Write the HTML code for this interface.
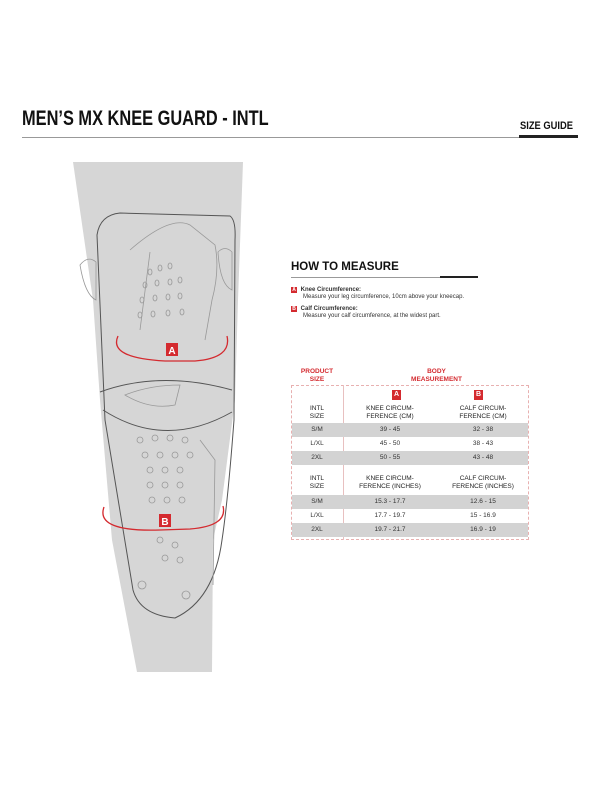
<!DOCTYPE html>
<html><head><meta charset="utf-8"><style>
body{margin:0;width:600px;height:800px;background:#fff;position:relative;font-family:"Liberation Sans",sans-serif;overflow:hidden}
.a{position:absolute}
.t{font-weight:bold}
.badge{display:inline-block;background:#d42a2f;color:#fff;font-weight:bold;font-size:7px;width:8px;height:8px;line-height:8px;text-align:center}
.bd{position:absolute;background:#d42a2f;color:#fff;font-weight:bold;font-size:7px;width:9px;height:10px;line-height:10px;text-align:center}
</style></head><body>
<div class="a t" style="left:22px;top:107px;font-size:21px;color:#111;transform:scaleX(0.78);transform-origin:left;white-space:nowrap">MEN’S MX KNEE GUARD - INTL</div>
<div class="a" style="left:22px;top:137px;width:556px;height:1px;background:#999"></div>
<div class="a t" style="left:520px;top:120px;font-size:11px;color:#111;transform:scaleX(0.85);transform-origin:left">SIZE GUIDE</div>
<div class="a" style="left:519px;top:135px;width:59px;height:3px;background:#222"></div>

<svg class="a" style="left:0;top:0" width="300" height="800">
<path d="M73 162 L243 162 L238 300 L235 400 L222 500 L213 540 L212 672 L137 672 L112 540 L100 400 L93 300 Z" fill="#d6d6d6"/>
<g fill="none" stroke="#555" stroke-width="1">
<path d="M97 235 Q100 215 120 213 L230 216 Q236 220 235 240 L234 420 Q228 500 222 540 Q214 600 175 618 Q140 615 133 590 L105 420 Z"/>
<path d="M100 392 Q160 370 232 390 M103 410 Q165 450 232 412"/>
</g>
<g fill="none" stroke="#999" stroke-width="0.8">
<path d="M130 250 Q170 215 190 225 L215 245 Q220 270 212 300 L205 340 M150 252 L140 330"/>
<path d="M80 265 Q88 255 96 262 L96 300 Q85 295 80 265 Z M218 252 Q225 245 232 252 L232 290 Q220 285 218 252 Z"/>
<path d="M125 395 Q150 385 180 385 L175 405 Q150 410 125 395 Z"/>
<path d="M200 440 L215 460 L213 585"/>
<circle cx="142" cy="585" r="4"/><circle cx="186" cy="595" r="4"/>
</g>
<g fill="none" stroke="#999" stroke-width="0.8">
<ellipse cx="150" cy="272" rx="2" ry="3"/><ellipse cx="160" cy="268" rx="2" ry="3"/><ellipse cx="170" cy="266" rx="2" ry="3"/>
<ellipse cx="145" cy="285" rx="2" ry="3"/><ellipse cx="157" cy="283" rx="2" ry="3"/><ellipse cx="170" cy="282" rx="2" ry="3"/><ellipse cx="180" cy="280" rx="2" ry="3"/>
<ellipse cx="142" cy="300" rx="2" ry="3"/><ellipse cx="155" cy="298" rx="2" ry="3"/><ellipse cx="168" cy="297" rx="2" ry="3"/><ellipse cx="180" cy="296" rx="2" ry="3"/>
<ellipse cx="140" cy="315" rx="2" ry="3"/><ellipse cx="153" cy="314" rx="2" ry="3"/><ellipse cx="168" cy="313" rx="2" ry="3"/><ellipse cx="182" cy="312" rx="2" ry="3"/>
<ellipse cx="140" cy="440" rx="3" ry="3"/><ellipse cx="155" cy="438" rx="3" ry="3"/><ellipse cx="170" cy="438" rx="3" ry="3"/><ellipse cx="185" cy="440" rx="3" ry="3"/>
<ellipse cx="145" cy="455" rx="3" ry="3"/><ellipse cx="160" cy="455" rx="3" ry="3"/><ellipse cx="175" cy="455" rx="3" ry="3"/><ellipse cx="190" cy="455" rx="3" ry="3"/>
<ellipse cx="150" cy="470" rx="3" ry="3"/><ellipse cx="165" cy="470" rx="3" ry="3"/><ellipse cx="180" cy="470" rx="3" ry="3"/>
<ellipse cx="150" cy="485" rx="3" ry="3"/><ellipse cx="165" cy="485" rx="3" ry="3"/><ellipse cx="180" cy="485" rx="3" ry="3"/>
<ellipse cx="152" cy="500" rx="3" ry="3"/><ellipse cx="167" cy="500" rx="3" ry="3"/><ellipse cx="182" cy="500" rx="3" ry="3"/>
<ellipse cx="160" cy="540" rx="3" ry="3"/><ellipse cx="175" cy="545" rx="3" ry="3"/><ellipse cx="165" cy="558" rx="3" ry="3"/><ellipse cx="180" cy="560" rx="3" ry="3"/>
</g>
<g fill="none" stroke="#d42a2f" stroke-width="1.3">
<path d="M118 336 Q108 358 165 361 L195 361 Q232 358 227 336"/>
<path d="M104 507 Q95 532 160 530 L190 529 Q228 526 223 506"/>
</g>
<rect x="166" y="343" width="12" height="13" fill="#d42a2f"/>
<text x="172" y="354" fill="#fff" font-size="10" font-weight="bold" text-anchor="middle" font-family="Liberation Sans">A</text>
<rect x="159" y="514" width="12" height="13" fill="#d42a2f"/>
<text x="165" y="525" fill="#fff" font-size="10" font-weight="bold" text-anchor="middle" font-family="Liberation Sans">B</text>
</svg>

<div class="a t" style="left:291px;top:261px;font-size:11.5px;color:#111">HOW TO MEASURE</div>
<div class="a" style="left:291px;top:277px;width:187px;height:1px;background:#999"></div>
<div class="a" style="left:440px;top:276px;width:38px;height:2px;background:#222"></div>
<div class="a" style="left:291px;top:287px;font-size:6px;line-height:7px;color:#333"><span class="badge" style="width:6px;height:6px;line-height:6px;font-size:5px">A</span> <b style="margin-left:2px">Knee Circumference:</b><br><span style="margin-left:12px">Measure your leg circumference, 10cm above your kneecap.</span></div>
<div class="a" style="left:291px;top:306px;font-size:6px;line-height:7px;color:#333"><span class="badge" style="width:6px;height:6px;line-height:6px;font-size:5px">B</span> <b style="margin-left:2px">Calf Circumference:</b><br><span style="margin-left:12px">Measure your calf circumference, at the widest part.</span></div>

<div class="a t" style="left:291px;top:368px;width:52px;text-align:center;font-size:6.5px;line-height:8px;color:#d42a2f">PRODUCT<br>SIZE</div>
<div class="a t" style="left:343px;top:368px;width:187px;text-align:center;font-size:6.5px;line-height:8px;color:#d42a2f">BODY<br>MEASUREMENT</div>
<div class="a" style="left:291px;top:385px;width:238px;height:155px;border:1px dashed #e8b0b0;box-sizing:border-box"></div>
<div class="a" style="left:343px;top:385px;width:1px;height:155px;background:#e8c0c0"></div>
<div class="bd" style="left:392px;top:390px">A</div>
<div class="bd" style="left:474px;top:390px">B</div>
<div class="a" style="left:291px;top:405px;width:238px;font-size:6.5px;line-height:8px;color:#222;display:flex;text-align:center">
<div style="width:52px">INTL<br>SIZE</div><div style="width:94px">KNEE CIRCUM-<br>FERENCE (CM)</div><div style="width:92px">CALF CIRCUM-<br>FERENCE (CM)</div></div>
<div class="a" style="left:292px;top:423px;width:236px;height:14px;background:#d3d3d3"></div>
<div class="a" style="left:292px;top:451px;width:236px;height:14px;background:#d3d3d3"></div>
<div class="a" style="left:292px;top:495px;width:236px;height:14px;background:#d3d3d3"></div>
<div class="a" style="left:292px;top:523px;width:236px;height:14px;background:#d3d3d3"></div>
<div class="a" style="left:291px;top:423px;width:238px;font-size:6.5px;line-height:14px;color:#333;text-align:center">
<div style="display:flex"><div style="width:52px">S/M</div><div style="width:94px">39 - 45</div><div style="width:92px">32 - 38</div></div>
<div style="display:flex"><div style="width:52px">L/XL</div><div style="width:94px">45 - 50</div><div style="width:92px">38 - 43</div></div>
<div style="display:flex"><div style="width:52px">2XL</div><div style="width:94px">50 - 55</div><div style="width:92px">43 - 48</div></div>
</div>
<div class="a" style="left:291px;top:475px;width:238px;font-size:6.5px;line-height:8px;color:#222;display:flex;text-align:center">
<div style="width:52px">INTL<br>SIZE</div><div style="width:94px">KNEE CIRCUM-<br>FERENCE (INCHES)</div><div style="width:92px">CALF CIRCUM-<br>FERENCE (INCHES)</div></div>
<div class="a" style="left:291px;top:495px;width:238px;font-size:6.5px;line-height:14px;color:#333;text-align:center">
<div style="display:flex"><div style="width:52px">S/M</div><div style="width:94px">15.3 - 17.7</div><div style="width:92px">12.6 - 15</div></div>
<div style="display:flex"><div style="width:52px">L/XL</div><div style="width:94px">17.7 - 19.7</div><div style="width:92px">15 - 16.9</div></div>
<div style="display:flex"><div style="width:52px">2XL</div><div style="width:94px">19.7 - 21.7</div><div style="width:92px">16.9 - 19</div></div>
</div>
</body></html>
